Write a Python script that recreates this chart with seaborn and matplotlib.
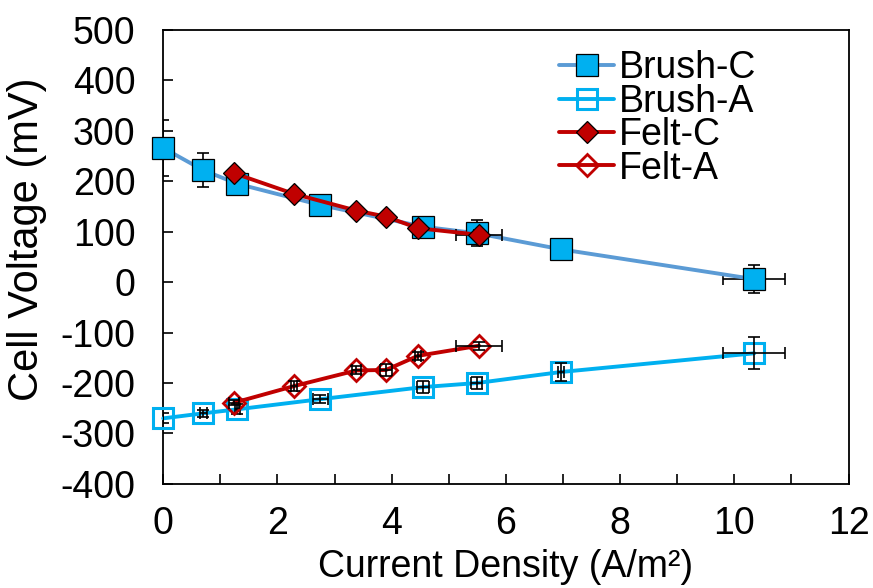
import matplotlib
matplotlib.use("Agg")
import matplotlib.pyplot as plt
import seaborn as sns
import numpy as np
import pandas as pd
from matplotlib.lines import Line2D

# ---- data ----
series_names = ["Brush-C", "Brush-A", "Felt-C", "Felt-A"]

brush_x = [0.0, 0.70, 1.30, 2.75, 4.55, 5.49, 6.97, 10.35]
brush_c_y = [266, 222, 195, 153, 110, 97, 65, 6]
brush_c_xerr = [0.0, 0.05, 0.05, 0.05, 0.10, 0.10, 0.10, 0.54]
brush_c_yerr = [55, 34, 14, 10, 12, 26, 8, 28]

brush_a_y = [-270, -260, -252, -232, -208, -200, -178, -141]
brush_a_xerr = [0.0, 0.06, 0.05, 0.13, 0.10, 0.10, 0.05, 0.54]
brush_a_yerr = [10, 7, 10, 8, 12, 12, 17, 32]

felt_x = [1.24, 2.29, 3.38, 3.90, 4.46, 5.53]
felt_c_y = [216, 175, 142, 130, 107, 94]
felt_c_xerr = [0.05, 0.05, 0.05, 0.05, 0.08, 0.40]
felt_c_yerr = [8, 8, 8, 8, 8, 10]

felt_a_y = [-239, -206, -175, -174, -146, -126]
felt_a_xerr = [0.08, 0.05, 0.08, 0.10, 0.05, 0.40]
felt_a_yerr = [5, 10, 8, 12, 8, 8]

x_ticks = [0, 2, 4, 6, 8, 10, 12]
y_ticks = [-400, -300, -200, -100, 0, 100, 200, 300, 400, 500]

# ---- style ----
sns.set_theme(style="ticks")
plt.rcParams['font.family'] = ['Liberation Sans', 'DejaVu Sans']
plt.rcParams['text.color'] = 'black'
plt.rcParams['axes.labelcolor'] = 'black'
plt.rcParams['xtick.color'] = 'black'
plt.rcParams['ytick.color'] = 'black'
FS = 27

fig = plt.figure(figsize=(8.73, 5.88), dpi=100)
ax = fig.add_axes([0.187, 0.177, 0.785, 0.772])

specs = [
    dict(name="Brush-C", x=brush_x, y=brush_c_y, xe=brush_c_xerr, ye=brush_c_yerr,
         lc="#5B9BD5", marker="s", ms=16, mfc="#00B0F0", mec="black", mew=0.9),
    dict(name="Brush-A", x=brush_x, y=brush_a_y, xe=brush_a_xerr, ye=brush_a_yerr,
         lc="#00B0F0", marker="s", ms=15, mfc="none", mec="#00B0F0", mew=2.2),
    dict(name="Felt-C", x=felt_x, y=felt_c_y, xe=felt_c_xerr, ye=felt_c_yerr,
         lc="#C00000", marker="D", ms=11, mfc="#C00000", mec="black", mew=0.9),
    dict(name="Felt-A", x=felt_x, y=felt_a_y, xe=felt_a_xerr, ye=felt_a_yerr,
         lc="#C00000", marker="D", ms=11, mfc="none", mec="#C00000", mew=2.0),
]

handles = []
for i, s in enumerate(specs):
    base = 2 + i * 3
    ax.errorbar(s["x"], s["y"], xerr=s["xe"], yerr=s["ye"], fmt="none",
                ecolor="black", elinewidth=1.2, capsize=4.5, capthick=1.2,
                zorder=base + 1 if s["mfc"] == "none" else base)
    df = pd.DataFrame({"x": s["x"], "y": s["y"]})
    sns.lineplot(data=df, x="x", y="y", ax=ax, sort=False, estimator=None,
                 color=s["lc"], linewidth=2.8, marker=s["marker"],
                 markersize=s["ms"], markerfacecolor=s["mfc"],
                 markeredgecolor=s["mec"], markeredgewidth=s["mew"],
                 zorder=base + (0 if s["mfc"] == "none" else 1.5), legend=False,
                 clip_on=False)
    handles.append(Line2D([0], [0], color=s["lc"], linewidth=2.8, marker=s["marker"],
                          markersize=s["ms"], markerfacecolor=s["mfc"],
                          markeredgecolor=s["mec"], markeredgewidth=s["mew"],
                          label=s["name"]))

ax.set_xlim(0, 12)
ax.set_ylim(-400, 500)
ax.set_xticks(x_ticks)
ax.set_xticks([1, 3, 5, 7, 9, 11], minor=True)
ax.set_yticks(y_ticks)
ax.set_xticklabels([str(t) for t in x_ticks], fontsize=FS)
ax.set_yticklabels([str(t) for t in y_ticks], fontsize=FS)

ax.tick_params(axis="both", which="both", direction="in", length=7, width=1.2,
               color="black", labelcolor="black", top=False, right=False)
ax.tick_params(axis="y", pad=20)
ax.tick_params(axis="x", which="major", pad=16)

for sp in ax.spines.values():
    sp.set_visible(True)
    sp.set_color("black")
    sp.set_linewidth(1.3)

ax.set_xlabel("Current Density (A/m²)", fontsize=27, labelpad=5, color="black")
ax.set_ylabel("Cell Voltage (mV)", fontsize=30, color="black")
ax.yaxis.set_label_coords(-0.17, 0.54)

leg = ax.legend(handles=handles, loc="upper left", bbox_to_anchor=(0.578, 0.955),
                frameon=False, fontsize=FS, handlelength=1.45, handletextpad=0.15,
                labelspacing=-0.07, borderpad=0, borderaxespad=0)
for t in leg.get_texts():
    t.set_color("black")

fig.savefig("out.png", dpi=100)
